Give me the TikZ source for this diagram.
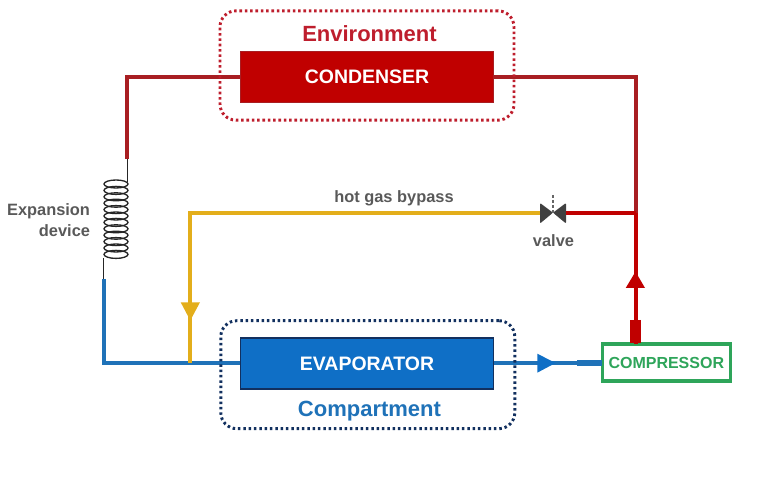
\documentclass[tikz,border=0pt]{standalone}
\usepackage{fontspec}
\setmainfont{Liberation Sans}
\definecolor{hotred}{HTML}{C00000}
\definecolor{deepred}{HTML}{A81E22}
\definecolor{titlered}{HTML}{BE1E2D}
\definecolor{coldblue}{HTML}{0F6FC6}
\definecolor{lineblue}{HTML}{1F72B8}
\definecolor{navy}{HTML}{12305F}
\definecolor{amber}{HTML}{E3AE1B}
\definecolor{green}{HTML}{2EA55A}
\definecolor{labelgrey}{HTML}{595959}
\definecolor{valvegrey}{HTML}{404040}
\tikzset{
  x=0.75pt, y=-0.75pt,
  label text/.style={font=\fontsize{12.3pt}{14pt}\selectfont\bfseries, text=labelgrey, inner sep=0pt, outer sep=0pt},
  unit box/.style={rectangle, minimum width=190pt, minimum height=38.5pt, inner sep=0pt, outer sep=0pt,
    text=white, font=\fontsize{14.6pt}{17pt}\selectfont\bfseries},
  zone/.style={rectangle, rounded corners=12pt, line width=2.2pt,
    dash pattern=on 1.9pt off 2.1pt, minimum width=220.5pt, inner sep=0pt, outer sep=0pt},
  zone text/.style={font=\fontsize{16.5pt}{19pt}\selectfont\bfseries, inner sep=0pt, outer sep=0pt},
  pipe/.style={line width=3pt, line join=miter},
}
\begin{document}
\begin{tikzpicture}
\useasboundingbox (0,0) rectangle (768,488);

% coordinates along the piping
\coordinate (tl) at (127.3,77.3);
\coordinate (coiltop) at (127.3,159);
\coordinate (coilin) at (127.3,182);
\coordinate (coilout) at (103.5,258);
\coordinate (coilbot) at (103.5,279);
\coordinate (bl) at (103.5,362.7);
\coordinate (tee) at (190,362.7);
\coordinate (yt) at (190,212.7);
\coordinate (tr) at (635.7,77.3);
\coordinate (rtee) at (635.7,212.7);
\coordinate (stemtop) at (553,195);

% heat exchangers and compressor
\node[unit box, fill=hotred, draw=deepred, line width=0.8pt] (cond) at (367,77.3) {CONDENSER};
\node[unit box, fill=coldblue, draw=navy, line width=1.2pt] (evap) at (367,363.5) {EVAPORATOR};
\node[rectangle, draw=green, line width=2.6pt, fill=white, minimum width=96pt, minimum height=27.8pt,
  inner sep=0pt, outer sep=0pt, text=green, font=\fontsize{12pt}{14pt}\selectfont\bfseries] (comp) at (666.3,362.7) {COMPRESSOR};

% valve body: two triangles meeting at a point
\node[inner sep=0pt, outer sep=0pt, minimum size=0pt] (valvec) at (553,212.7) {};
\coordinate (vl) at (540,212.7);
\coordinate (vr) at (566,212.7);
\fill[valvegrey, rounded corners=0.8pt] (540,203) -- (553,212.7) -- (540,223.5) -- cycle;
\fill[valvegrey, rounded corners=0.8pt] (566,203) -- (553,212.7) -- (566,223.5) -- cycle;
\draw[valvegrey!80, line width=0.9pt, dash pattern=on 2.2pt off 1.5pt] (stemtop) -- (valvec);

% refrigerant lines
\draw[pipe, deepred] (cond.west |- tl) -- (tl) -- (coiltop);
\draw[pipe, lineblue] (coilbot) -- (bl) -- (bl -| evap.west);
\draw[pipe, deepred] (cond.east |- tr) -- (tr) -- (rtee);
\draw[pipe, hotred] (rtee) -- (rtee |- comp.north);
\draw[pipe, hotred] (vr) -- (rtee);
\draw[pipe, amber] (vl) -- (yt) -- (tee);
\draw[pipe, lineblue] (bl -| evap.east) -- (bl -| comp.west);
\draw[black!85, line width=1.1pt] (coiltop) -- (coilin);
\draw[black!85, line width=1.1pt] (coilout) -- (coilbot);

% thick stubs at the compressor ports
\draw[line width=4.5pt, lineblue] (577.3,362.7) -- (comp.west);
\draw[line width=8.2pt, hotred] (635.5,320) -- (635.5,343);

% flow arrowheads
\fill[hotred] (635.5,271.7) -- (645,288) -- (625.7,288) -- cycle;
\fill[amber] (190.3,320.5) -- (180.7,302.3) -- (200,302.3) -- cycle;
\fill[coldblue] (555.5,363) -- (537.3,353.7) -- (537.3,372.7) -- cycle;

% expansion coil
\foreach \yy in {184,190.4,...,256}
  \draw[black!85, line width=1pt] (116,\yy) ellipse [x radius=12, y radius=4];

% dotted zones
\node[zone, draw=titlered, minimum height=82pt] (env) at (367,65.5) {};
\node[zone, draw=navy, minimum height=81pt] (compt) at (367.8,374.7) {};

% labels
\node[zone text, text=titlered] (envt) at (369.5,34) {Environment};
\node[zone text, text=lineblue] (compl) at (369.5,411.5) {Compartment};
\node[label text] (hgb) at (394,198) {hot gas bypass};
\node[label text] (vlab) at (553.5,241) {valve};
\node[label text, anchor=east] (exp1) at (90,211) {Expansion};
\node[label text, anchor=east] (exp2) at (90,231) {device};
\end{tikzpicture}
\end{document}
